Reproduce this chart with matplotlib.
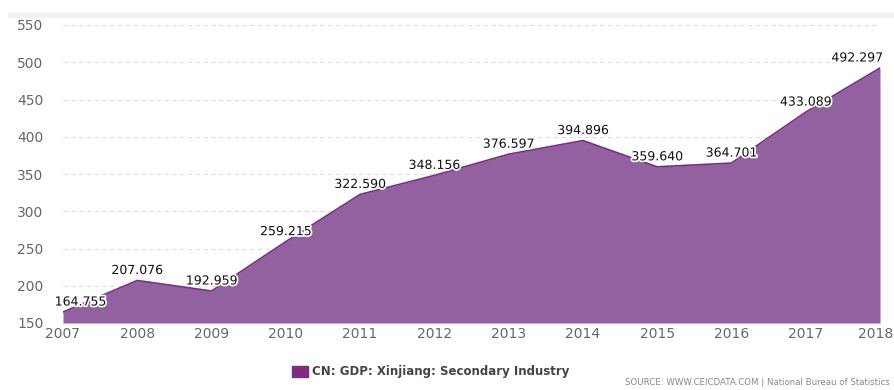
import matplotlib
matplotlib.use("Agg")
import matplotlib.pyplot as plt
import matplotlib.patheffects as pe
import matplotlib.transforms as mtransforms
from matplotlib.patches import Rectangle

years = [2007, 2008, 2009, 2010, 2011, 2012, 2013, 2014, 2015, 2016, 2017, 2018]
values = [164.755, 207.076, 192.959, 259.215, 322.590, 348.156, 376.597,
          394.896, 359.640, 364.701, 433.089, 492.297]
yticks = [150, 200, 250, 300, 350, 400, 450, 500, 550]

fig = plt.figure(figsize=(8.95, 3.9), dpi=100)
ax = fig.add_axes([63 / 895, 67 / 390, 817 / 895, 298 / 390])

# light band across the top
fig.patches.append(Rectangle((8 / 895, 373 / 390), 887 / 895, 4 / 390,
                             transform=fig.transFigure, color="#f2f2f2", zorder=0))

ax.fill_between(years, values, 150, color="#9461a0", lw=0, zorder=2)
ax.plot(years, values, color="#7b2a8a", lw=1.2, zorder=3)

ax.set_xlim(2007, 2018)
ax.set_ylim(150, 550)
ax.set_yticks(yticks)
ax.set_xticks(years)
ax.tick_params(length=0, labelsize=10, labelcolor="#666666", pad=3)
ax.tick_params(axis="y", pad=14)
ax.grid(axis="y", color="#dddddd", ls=(0, (4, 3)), lw=0.8, zorder=1)
for s in ax.spines.values():
    s.set_visible(False)

# nudge last year label so it stays inside the picture
last = ax.get_xticklabels()[-1]
last.set_transform(last.get_transform() +
                   mtransforms.ScaledTranslation(-4 / 100, 0, fig.dpi_scale_trans))

halo = [pe.withStroke(linewidth=2.5, foreground="white")]
for i, (x, v) in enumerate(zip(years, values)):
    ha = "center"
    dx = 0
    if i == 0:
        dx = -6
        ha = "left"
    elif i == len(years) - 1:
        dx = 2
        ha = "right"
    ax.annotate(f"{v:.3f}", (x, v), xytext=(dx, 2.5), textcoords="offset points",
                ha=ha, va="bottom", fontsize=9, color="#111111",
                path_effects=halo, zorder=5, annotation_clip=False)

# legend
fig.patches.append(Rectangle((292 / 895, 13 / 390), 16 / 895, 11 / 390,
                             transform=fig.transFigure, color="#7f2b83"))
fig.text(312 / 895, 18.5 / 390, "CN: GDP: Xinjiang: Secondary Industry",
         fontsize=8.5, fontweight="bold", color="#444444", va="center")
fig.text(890 / 895, 3 / 390, "SOURCE: WWW.CEICDATA.COM | National Bureau of Statistics",
         fontsize=6.2, color="#888888", ha="right", va="bottom")

fig.savefig("out.png", dpi=100)
